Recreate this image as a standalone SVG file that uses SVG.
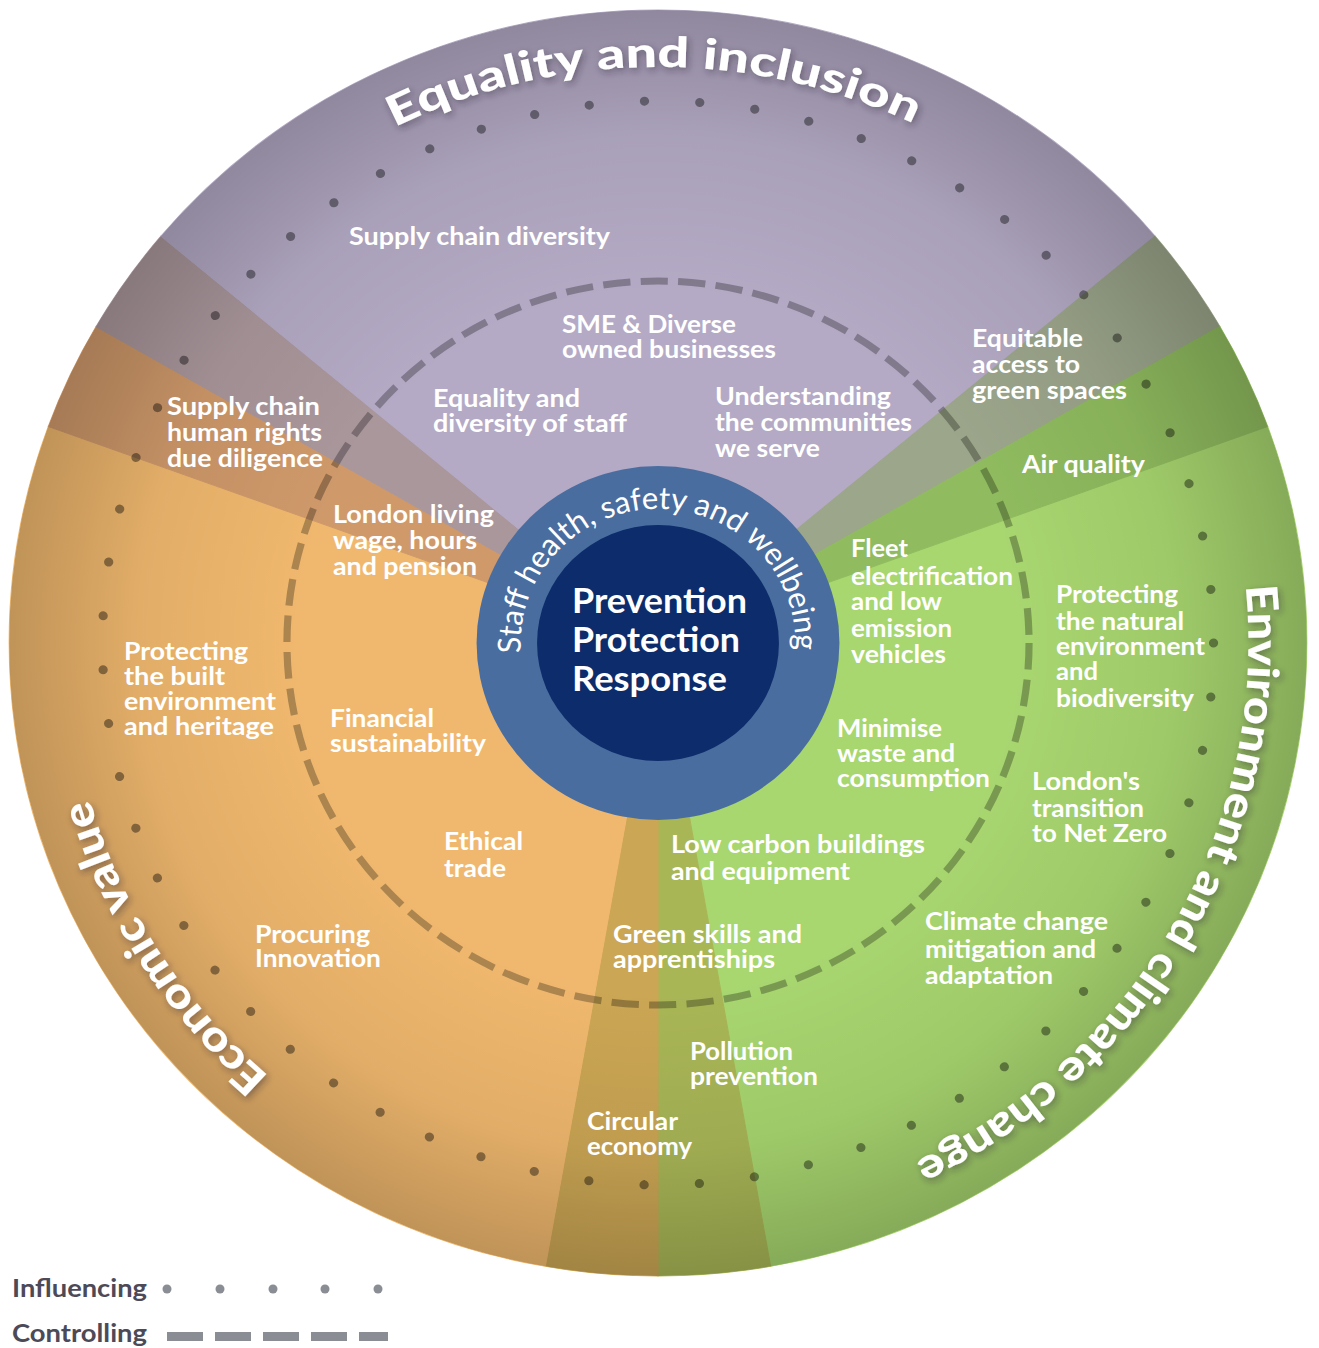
<svg xmlns="http://www.w3.org/2000/svg" width="1319" height="1348" viewBox="0 0 1319 1348">
  <style>
    .lbl { font-family: Lato, 'Open Sans', 'DejaVu Sans', sans-serif; font-weight: 700; font-size: 24px; fill: #ffffff; }
    .core { font-family: Lato, 'Open Sans', 'DejaVu Sans', sans-serif; font-weight: 700; font-size: 35px; fill: #ffffff; }
    .title { font-family: Lato, 'Open Sans', 'DejaVu Sans', sans-serif; font-weight: 900; font-size: 42px; fill: #ffffff; }
    .ringtxt { font-family: Lato, 'Open Sans', 'DejaVu Sans', sans-serif; font-weight: 400; font-size: 31px; fill: #ffffff; }
    .legend { font-family: Lato, 'Open Sans', 'DejaVu Sans', sans-serif; font-weight: 700; font-size: 24px; fill: #4d4a58; }
    .wedge { stroke-width: 1; }
  </style>
  <defs>
    <radialGradient id="rimShade" cx="658" cy="643" r="633" gradientUnits="userSpaceOnUse">
      <stop offset="0" stop-color="#000" stop-opacity="0"/>
      <stop offset="0.55" stop-color="#000" stop-opacity="0"/>
      <stop offset="0.8" stop-color="#000" stop-opacity="0.06"/>
      <stop offset="1" stop-color="#000" stop-opacity="0.2"/>
    </radialGradient>
    <filter id="shadow" x="-10%" y="-30%" width="120%" height="160%">
      <feDropShadow dx="2" dy="3" stdDeviation="3.5" flood-color="#2a2030" flood-opacity="0.45"/>
    </filter>
    <!-- arcs for the curved texts, in the wheel's own (unstretched) frame -->
    <path id="arcRing" d="M524.38,653.05 A134,134 0 1 1 791.62,653.05"/>
    <path id="arcEquality" d="M401.0,127.5 A576,576 0 0 1 908.7,124.4"/>
    <path id="arcEnvironment" d="M1231.2,585.8 A576,576 0 0 1 906.0,1162.9"/>
    <path id="arcEconomic" d="M278.6,1076.4 A576,576 0 0 1 103.2,797.9"/>
  </defs>

  <rect x="0" y="0" width="1319" height="1348" fill="#ffffff"/>

  <!-- the wheel is drawn as circles and stretched slightly in x -->
  <g id="wheel" transform="matrix(1.025 0 0 1 -16.45 0)">
    <g id="sectors">
      <path id="sector-environment" class="wedge" fill="#a8d66f" stroke="#a8d66f" d="M658,643 L1252.83,426.5 A633,633 0 0 1 767.92,1266.38 Z"/>
      <path id="overlap-env-eco" class="wedge" fill="#a9b656" stroke="#a9b656" d="M658,643 L767.92,1266.38 A633,633 0 0 1 658,1276 Z"/>
      <path id="overlap-eco-env" class="wedge" fill="#cba654" stroke="#cba654" d="M658,643 L658,1276 A633,633 0 0 1 548.08,1266.38 Z"/>
      <path id="sector-economic" class="wedge" fill="#f0b86e" stroke="#f0b86e" d="M658,643 L548.08,1266.38 A633,633 0 0 1 63.17,426.5 Z"/>
      <path id="overlap-eco-eq" class="wedge" fill="#cf996a" stroke="#cf996a" d="M658,643 L63.17,426.5 A633,633 0 0 1 109.8,326.5 Z"/>
      <path id="overlap-eq-eco" class="wedge" fill="#aa979c" stroke="#aa979c" d="M658,643 L109.8,326.5 A633,633 0 0 1 173.1,236.11 Z"/>
      <path id="sector-equality" class="wedge" fill="#b4aac5" stroke="#b4aac5" d="M658,643 L173.1,236.11 A633,633 0 0 1 1142.9,236.11 Z"/>
      <path id="overlap-eq-env" class="wedge" fill="#9ca68b" stroke="#9ca68b" d="M658,643 L1142.9,236.11 A633,633 0 0 1 1206.2,326.5 Z"/>
      <path id="overlap-env-eq" class="wedge" fill="#90bc5f" stroke="#90bc5f" d="M658,643 L1206.2,326.5 A633,633 0 0 1 1252.83,426.5 Z"/>
      <circle cx="658" cy="643" r="633" fill="url(#rimShade)"/>
    </g>

    <g id="rings" fill="none">
      <!-- influencing: dotted ring -->
      <circle id="ring-influencing" cx="658" cy="643" r="542" stroke="#000" stroke-opacity="0.4" stroke-width="9" stroke-linecap="round" stroke-dasharray="0.001 54.055"/>
      <!-- controlling: dashed ring -->
      <circle id="ring-controlling" cx="658" cy="643" r="362" stroke="#000" stroke-opacity="0.28" stroke-width="7" stroke-dasharray="26.7 10"/>
    </g>

    <g id="hub">
      <circle cx="658" cy="643" r="177" fill="#4a6d9f"/>
      <circle cx="658" cy="643" r="118" fill="#0c2c6b"/>
      <text class="ringtxt"><textPath href="#arcRing" textLength="438" lengthAdjust="spacingAndGlyphs">Staff health, safety and wellbeing</textPath></text>
    </g>

    <g id="titles" filter="url(#shadow)">
      <text id="title-equality" class="title"><textPath href="#arcEquality" textLength="524" lengthAdjust="spacingAndGlyphs">Equality and inclusion</textPath></text>
      <text id="title-environment" class="title"><textPath href="#arcEnvironment" textLength="703" lengthAdjust="spacingAndGlyphs">Environment and climate change</textPath></text>
      <text id="title-economic" class="title"><textPath href="#arcEconomic" textLength="332" lengthAdjust="spacingAndGlyphs">Economic value</textPath></text>
    </g>
  </g>

  <g id="core">
    <text class="core" x="572" y="613" textLength="175" lengthAdjust="spacingAndGlyphs">Prevention</text>
    <text class="core" x="572" y="652" textLength="168" lengthAdjust="spacingAndGlyphs">Protection</text>
    <text class="core" x="572" y="691" textLength="155" lengthAdjust="spacingAndGlyphs">Response</text>
  </g>

  <!-- Equality and inclusion -->
  <g id="node-supply-chain-diversity">
    <text class="lbl" x="349" y="245" textLength="261" lengthAdjust="spacingAndGlyphs">Supply chain diversity</text>
  </g>
  <g id="node-sme-diverse">
    <text class="lbl" x="562" y="333" textLength="174" lengthAdjust="spacingAndGlyphs">SME &amp; Diverse</text>
    <text class="lbl" x="562" y="358" textLength="214" lengthAdjust="spacingAndGlyphs">owned businesses</text>
  </g>
  <g id="node-equality-staff">
    <text class="lbl" x="433" y="407" textLength="147" lengthAdjust="spacingAndGlyphs">Equality and</text>
    <text class="lbl" x="433" y="432" textLength="194" lengthAdjust="spacingAndGlyphs">diversity of staff</text>
  </g>
  <g id="node-understanding">
    <text class="lbl" x="715" y="405" textLength="176" lengthAdjust="spacingAndGlyphs">Understanding</text>
    <text class="lbl" x="715" y="431" textLength="197" lengthAdjust="spacingAndGlyphs">the communities</text>
    <text class="lbl" x="715" y="457" textLength="105" lengthAdjust="spacingAndGlyphs">we serve</text>
  </g>
  <g id="node-green-spaces">
    <text class="lbl" x="972" y="347" textLength="111" lengthAdjust="spacingAndGlyphs">Equitable</text>
    <text class="lbl" x="972" y="373" textLength="108" lengthAdjust="spacingAndGlyphs">access to</text>
    <text class="lbl" x="972" y="399" textLength="155" lengthAdjust="spacingAndGlyphs">green spaces</text>
  </g>
  <g id="node-air-quality">
    <text class="lbl" x="1022" y="473" textLength="123" lengthAdjust="spacingAndGlyphs">Air quality</text>
  </g>

  <!-- Economic value -->
  <g id="node-human-rights">
    <text class="lbl" x="167" y="415" textLength="153" lengthAdjust="spacingAndGlyphs">Supply chain</text>
    <text class="lbl" x="167" y="441" textLength="155" lengthAdjust="spacingAndGlyphs">human rights</text>
    <text class="lbl" x="167" y="467" textLength="156" lengthAdjust="spacingAndGlyphs">due diligence</text>
  </g>
  <g id="node-living-wage">
    <text class="lbl" x="333" y="523" textLength="161" lengthAdjust="spacingAndGlyphs">London living</text>
    <text class="lbl" x="333" y="549" textLength="144" lengthAdjust="spacingAndGlyphs">wage, hours</text>
    <text class="lbl" x="333" y="575" textLength="144" lengthAdjust="spacingAndGlyphs">and pension</text>
  </g>
  <g id="node-built-environment">
    <text class="lbl" x="124" y="660" textLength="124" lengthAdjust="spacingAndGlyphs">Protecting</text>
    <text class="lbl" x="124" y="685" textLength="101" lengthAdjust="spacingAndGlyphs">the built</text>
    <text class="lbl" x="124" y="710" textLength="152" lengthAdjust="spacingAndGlyphs">environment</text>
    <text class="lbl" x="124" y="735" textLength="150" lengthAdjust="spacingAndGlyphs">and heritage</text>
  </g>
  <g id="node-financial">
    <text class="lbl" x="330" y="727" textLength="104" lengthAdjust="spacingAndGlyphs">Financial</text>
    <text class="lbl" x="330" y="752" textLength="156" lengthAdjust="spacingAndGlyphs">sustainability</text>
  </g>
  <g id="node-ethical-trade">
    <text class="lbl" x="444" y="850" textLength="79" lengthAdjust="spacingAndGlyphs">Ethical</text>
    <text class="lbl" x="444" y="877" textLength="62" lengthAdjust="spacingAndGlyphs">trade</text>
  </g>
  <g id="node-procuring">
    <text class="lbl" x="255" y="943" textLength="115" lengthAdjust="spacingAndGlyphs">Procuring</text>
    <text class="lbl" x="255" y="967" textLength="126" lengthAdjust="spacingAndGlyphs">Innovation</text>
  </g>
  <g id="node-green-skills">
    <text class="lbl" x="613" y="943" textLength="189" lengthAdjust="spacingAndGlyphs">Green skills and</text>
    <text class="lbl" x="613" y="968" textLength="162" lengthAdjust="spacingAndGlyphs">apprentiships</text>
  </g>
  <g id="node-circular">
    <text class="lbl" x="587" y="1130" textLength="91" lengthAdjust="spacingAndGlyphs">Circular</text>
    <text class="lbl" x="587" y="1155" textLength="105" lengthAdjust="spacingAndGlyphs">economy</text>
  </g>

  <!-- Environment and climate change -->
  <g id="node-pollution">
    <text class="lbl" x="690" y="1060" textLength="103" lengthAdjust="spacingAndGlyphs">Pollution</text>
    <text class="lbl" x="690" y="1085" textLength="128" lengthAdjust="spacingAndGlyphs">prevention</text>
  </g>
  <g id="node-low-carbon">
    <text class="lbl" x="671" y="853" textLength="254" lengthAdjust="spacingAndGlyphs">Low carbon buildings</text>
    <text class="lbl" x="671" y="880" textLength="179" lengthAdjust="spacingAndGlyphs">and equipment</text>
  </g>
  <g id="node-fleet">
    <text class="lbl" x="851" y="557" textLength="57" lengthAdjust="spacingAndGlyphs">Fleet</text>
    <text class="lbl" x="851" y="585" textLength="162" lengthAdjust="spacingAndGlyphs">electrification</text>
    <text class="lbl" x="851" y="610" textLength="91" lengthAdjust="spacingAndGlyphs">and low</text>
    <text class="lbl" x="851" y="637" textLength="101" lengthAdjust="spacingAndGlyphs">emission</text>
    <text class="lbl" x="851" y="663" textLength="95" lengthAdjust="spacingAndGlyphs">vehicles</text>
  </g>
  <g id="node-natural-environment">
    <text class="lbl" x="1056" y="603" textLength="122" lengthAdjust="spacingAndGlyphs">Protecting</text>
    <text class="lbl" x="1056" y="630" textLength="128" lengthAdjust="spacingAndGlyphs">the natural</text>
    <text class="lbl" x="1056" y="655" textLength="149" lengthAdjust="spacingAndGlyphs">environment</text>
    <text class="lbl" x="1056" y="680" textLength="42" lengthAdjust="spacingAndGlyphs">and</text>
    <text class="lbl" x="1056" y="707" textLength="138" lengthAdjust="spacingAndGlyphs">biodiversity</text>
  </g>
  <g id="node-minimise-waste">
    <text class="lbl" x="837" y="737" textLength="105" lengthAdjust="spacingAndGlyphs">Minimise</text>
    <text class="lbl" x="837" y="762" textLength="118" lengthAdjust="spacingAndGlyphs">waste and</text>
    <text class="lbl" x="837" y="787" textLength="153" lengthAdjust="spacingAndGlyphs">consumption</text>
  </g>
  <g id="node-net-zero">
    <text class="lbl" x="1032" y="790" textLength="108" lengthAdjust="spacingAndGlyphs">London's</text>
    <text class="lbl" x="1032" y="817" textLength="112" lengthAdjust="spacingAndGlyphs">transition</text>
    <text class="lbl" x="1032" y="842" textLength="135" lengthAdjust="spacingAndGlyphs">to Net Zero</text>
  </g>
  <g id="node-climate-change">
    <text class="lbl" x="925" y="930" textLength="183" lengthAdjust="spacingAndGlyphs">Climate change</text>
    <text class="lbl" x="925" y="958" textLength="171" lengthAdjust="spacingAndGlyphs">mitigation and</text>
    <text class="lbl" x="925" y="984" textLength="128" lengthAdjust="spacingAndGlyphs">adaptation</text>
  </g>

  <!-- key -->
  <g id="legend">
    <text class="legend" x="12" y="1297" textLength="135" lengthAdjust="spacingAndGlyphs">Influencing</text>
    <g fill="#8a8d93">
      <circle cx="167" cy="1289" r="4.5"/>
      <circle cx="220" cy="1289" r="4.5"/>
      <circle cx="273" cy="1289" r="4.5"/>
      <circle cx="325" cy="1289" r="4.5"/>
      <circle cx="378" cy="1289" r="4.5"/>
    </g>
    <text class="legend" x="12" y="1342" textLength="135" lengthAdjust="spacingAndGlyphs">Controlling</text>
    <g fill="#8a8d93">
      <rect x="167" y="1332" width="36" height="9"/>
      <rect x="215" y="1332" width="36" height="9"/>
      <rect x="263" y="1332" width="36" height="9"/>
      <rect x="311" y="1332" width="36" height="9"/>
      <rect x="359" y="1332" width="29" height="9"/>
    </g>
  </g>
</svg>
